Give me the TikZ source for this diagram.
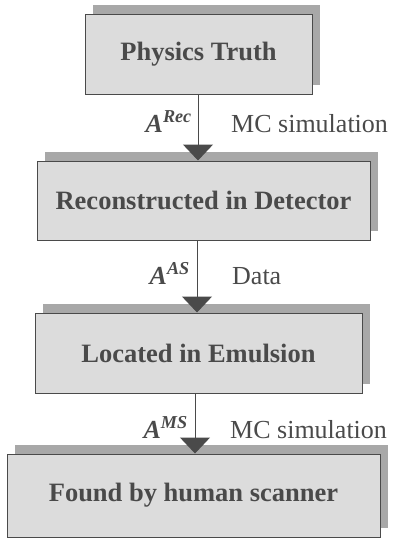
\documentclass[tikz,border=0pt]{standalone}
\usepackage{fontspec}
\setmainfont{Liberation Serif}
\usetikzlibrary{arrows.meta,shadows}
\definecolor{boxgray}{HTML}{DCDCDC}
\definecolor{shadegray}{HTML}{A8A8A8}
\definecolor{inkgray}{HTML}{4A4A4A}
\begin{document}
\begin{tikzpicture}[x=1pt,y=-1pt]
\tikzstyle{stage} = [draw=inkgray, line width=1pt, fill=boxgray, text=inkgray, inner sep=0pt, font=\fontsize{26.5}{30}\selectfont\bfseries, drop shadow={shadow xshift=8pt, shadow yshift=9pt, fill=shadegray, opacity=1}]
\tikzstyle{flow} = [draw=inkgray, line width=1pt, -{Triangle[width=30pt,length=16pt,fill=inkgray]}]
\tikzstyle{amp} = [text=inkgray, inner sep=0pt, anchor=base east, font=\fontsize{26}{28}\selectfont\bfseries\itshape]
\tikzstyle{how} = [text=inkgray, inner sep=0pt, anchor=base west, font=\fontsize{26}{28}\selectfont]

\useasboundingbox (0,0) rectangle (393,538);

\node[stage, minimum width=227pt, minimum height=80pt] (truth) at (198.5,54) {Physics Truth};
\node[stage, minimum width=333pt, minimum height=79pt] (recon) at (203.5,200.5) {Reconstructed in Detector};
\node[stage, minimum width=327pt, minimum height=80pt] (located) at (198.5,353) {Located in Emulsion};
\node[stage, minimum width=373pt, minimum height=83pt] (found) at (193.5,495.5) {Found by human scanner};

%\draw[flow] (truth) -- (recon);
\draw[flow] ([xshift=-0.5pt]truth.south) -- ([xshift=-0.5pt]truth.south |- recon.north);
\draw[flow] ([xshift=-6.5pt]recon.south) -- ([xshift=-6.5pt]recon.south |- located.north);
\draw[flow] ([xshift=-3.5pt]located.south) -- ([xshift=-3.5pt]located.south |- found.north);

\node[amp] (arec) at (192,132) {A\textsuperscript{Rec}};
\node[how] (mc1) at (231,132) {MC simulation};

\node[amp] (aas) at (190,284) {A\textsuperscript{AS}};
\node[how] (data) at (232,284) {Data};

\node[amp] (ams) at (188,438) {A\textsuperscript{MS}};
\node[how] (mc2) at (230,438) {MC simulation};

\end{tikzpicture}
\end{document}
